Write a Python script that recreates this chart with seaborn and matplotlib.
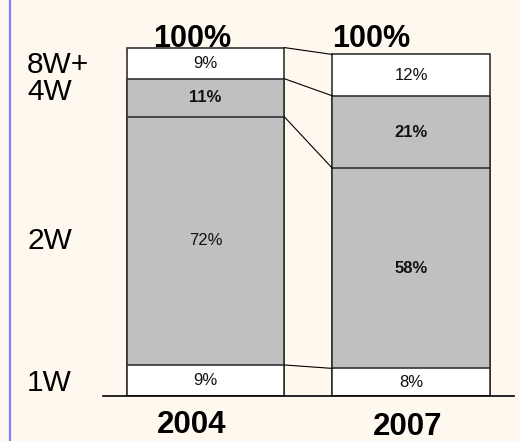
import pandas as pd
import matplotlib.pyplot as plt
import seaborn as sns
from matplotlib.lines import Line2D

years = ["2004", "2007"]
segments = ["1W", "2W", "4W", "8W+"]
share_2004 = [9, 72, 11, 9]
share_2007 = [8, 58, 21, 12]
totals = ["100%", "100%"]

BG = "#FEF8EF"
EDGE = "#333333"
seg_colors = {"1W": "white", "2W": "#C0C0C0", "4W": "#C0C0C0", "8W+": "white"}
bold_labels = {("2004", "4W"), ("2007", "4W"), ("2007", "2W")}

sns.set_style("white")
plt.rcParams["font.family"] = ["Liberation Sans", "DejaVu Sans"]

rows = []
for year, shares in zip(years, [share_2004, share_2007]):
    cum = 0
    for seg, val in zip(segments, shares):
        rows.append({"year": year, "segment": seg, "share": val,
                     "bottom": cum, "top": cum + val})
        cum += val
df = pd.DataFrame(rows)

fig = plt.figure(figsize=(5.2, 4.41), dpi=100, facecolor=BG)
ax = fig.add_axes([102.75 / 520, 45 / 441, 411 / 520, 379.5 / 441])
ax.set_facecolor(BG)

bar_w = 0.765
# draw the cumulative tops, tallest first, so each segment covers the ones below
for seg in reversed(segments):
    sub = df[df["segment"] == seg]
    sns.barplot(data=sub, x="year", y="top", order=years, color=seg_colors[seg],
                width=bar_w, edgecolor=EDGE, linewidth=1.2, saturation=1,
                errorbar=None, ax=ax)

# connector lines between the two bars
left = df[df["year"] == years[0]].reset_index(drop=True)
right = df[df["year"] == years[1]].reset_index(drop=True)
ax.plot([bar_w / 2, 1 - bar_w / 2], [0, 0], color="black", lw=0.8)
for i in range(len(segments)):
    ax.plot([bar_w / 2, 1 - bar_w / 2], [left.loc[i, "top"], right.loc[i, "top"]],
            color="black", lw=0.8)

# segment labels
for _, r in df.iterrows():
    xi = years.index(r["year"])
    bold = (r["year"], r["segment"]) in bold_labels
    ax.text(xi, (r["bottom"] + r["top"]) / 2, f"{r['share']}%", ha="center",
            va="center", fontsize=12, fontweight="bold" if bold else "normal",
            color="#111111")

# totals above bars
for xi, lab in zip([-0.066, 0.806], totals):
    ax.text(xi, 103.5, lab, ha="center", va="center", fontsize=22,
            fontweight="bold", color="black")

# year labels under the axis
for xi, yy, lab in zip([-0.066, 0.983], [-8.4, -8.9], years):
    ax.text(xi, yy, lab, ha="center", va="center", fontsize=22.5,
            fontweight="bold", color="black")

# category labels on the left, at the 2004 segment centres
nudges = [-0.7, 0, 1.6, -0.6]
ytrans = ax.get_yaxis_transform()
for i, seg in enumerate(segments):
    yc = (left.loc[i, "bottom"] + left.loc[i, "top"]) / 2 + nudges[i]
    ax.text(-0.184, yc, seg, transform=ytrans, ha="left", va="center",
            fontsize=21.5, color="black")

ax.set_xlim(-0.5, 1.5)
ax.set_ylim(0, 110)
ax.set_xticks([])
ax.set_yticks([])
ax.set_xlabel("")
ax.set_ylabel("")
for side in ["top", "right", "left"]:
    ax.spines[side].set_visible(False)
ax.spines["bottom"].set_color("black")
ax.spines["bottom"].set_linewidth(1.2)

fig.add_artist(Line2D([10 / 520, 10 / 520], [0, 1], color="#8080FF", lw=1.6))

fig.savefig("out.png", dpi=100, facecolor=BG)
